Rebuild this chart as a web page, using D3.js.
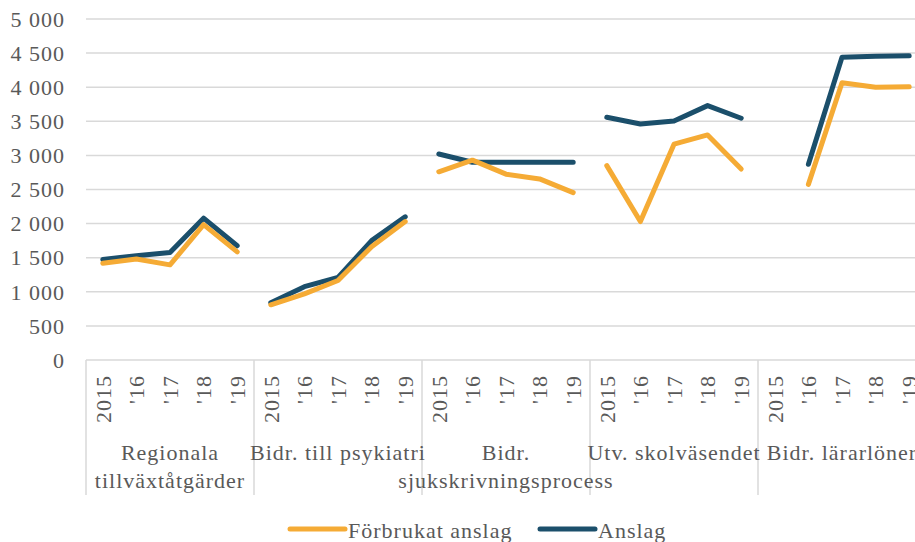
<!DOCTYPE html>
<html>
<head>
<meta charset="utf-8">
<script src="https://cdn.jsdelivr.net/npm/d3@7/dist/d3.min.js"></script>
<style>
  html, body { margin: 0; padding: 0; background: #fff; }
  svg { display: block; }
  text { font-family: "Liberation Serif", "Times New Roman", serif; fill: #595959; }
</style>
</head>
<body>
<svg id="chart" width="915" height="542"></svg>
<script>
// ---- data ----
const groups = ["Regionala tillväxtåtgärder", "Bidr. till psykiatri", "Bidr. sjukskrivningsprocess", "Utv. skolväsendet", "Bidr. lärarlöner"];
const groupLabelLines = [["Regionala", "tillväxtåtgärder"], ["Bidr. till psykiatri"], ["Bidr.", "sjukskrivningsprocess"], ["Utv. skolväsendet"], ["Bidr. lärarlöner"]];
const years = ["2015", "'16", "'17", "'18", "'19"];
const forbrukat = [
  [1420, 1480, 1395, 1985, 1585],
  [810, 970, 1165, 1660, 2030],
  [2760, 2930, 2725, 2655, 2455],
  [2850, 2030, 3165, 3300, 2800],
  [null, 2575, 4065, 4000, 4005]
];
const anslag = [
  [1475, 1530, 1575, 2080, 1675],
  [840, 1075, 1210, 1750, 2100],
  [3020, 2900, 2900, 2900, 2900],
  [3560, 3460, 3505, 3730, 3545],
  [null, 2870, 4440, 4455, 4460]
];
const yTicks = [0, 500, 1000, 1500, 2000, 2500, 3000, 3500, 4000, 4500, 5000];
const seriesNames = ["Förbrukat anslag", "Anslag"];
const colors = ["#F5AB35", "#1B4F6B"];

// ---- layout ----
const svg = d3.select("#chart");
const mLeft = 86, mRight = 926, mTop = 19, mBottom = 360;
const fs = 22;

const x0 = d3.scaleBand().domain(groups).range([mLeft, mRight]).paddingInner(0).paddingOuter(0);
const x1 = d3.scaleBand().domain(years).range([0, x0.bandwidth()]);
const y = d3.scaleLinear().domain([0, 5000]).range([mBottom, mTop]);

const fmt = v => d3.format(",")(v).replace(/,/g, " ");

// gridlines
svg.append("g").selectAll("line").data(yTicks.filter(d => d > 0)).join("line")
  .attr("x1", mLeft).attr("x2", mRight)
  .attr("y1", d => y(d)).attr("y2", d => y(d))
  .attr("stroke", "#d9d9d9").attr("stroke-width", 1.5);

// y-axis labels
svg.append("g").selectAll("text").data(yTicks).join("text")
  .attr("x", 65).attr("y", d => y(d)).attr("dy", "0.35em")
  .attr("text-anchor", "end").attr("font-size", fs).style("letter-spacing", "1px")
  .text(fmt);

// x axis baseline
svg.append("line").attr("x1", mLeft).attr("x2", mRight).attr("y1", mBottom).attr("y2", mBottom)
  .attr("stroke", "#d9d9d9").attr("stroke-width", 1.5);

// group separators
const seps = groups.map(g => x0(g)).concat([x0(groups[groups.length - 1]) + x0.bandwidth()]);
svg.append("g").selectAll("line").data(seps).join("line")
  .attr("x1", d => d).attr("x2", d => d).attr("y1", mBottom).attr("y2", 495)
  .attr("stroke", "#d9d9d9").attr("stroke-width", 1.5);

// year tick labels
groups.forEach(g => {
  svg.append("g").selectAll("text").data(years).join("text")
    .attr("transform", d => `translate(${x0(g) + x1(d) + x1.bandwidth() / 2},375) rotate(-90)`)
    .attr("dy", "0.35em").attr("text-anchor", "end").attr("font-size", fs)
    .style("letter-spacing", "1px")
    .text(d => d);
});

// group labels
groups.forEach((g, i) => {
  const cx = x0(g) + x0.bandwidth() / 2;
  groupLabelLines[i].forEach((ln, j) => {
    svg.append("text").attr("x", cx).attr("y", 460 + j * 28)
      .attr("text-anchor", "middle").attr("font-size", fs).style("letter-spacing", "1px")
      .text(ln);
  });
});

// lines
const line = d3.line()
  .defined(d => d.v != null)
  .x(d => x0(d.g) + x1(d.yr) + x1.bandwidth() / 2)
  .y(d => y(d.v));

const seriesData = [anslag, forbrukat];
const seriesColors = [colors[1], colors[0]];
seriesData.forEach((sd, si) => {
  groups.forEach((g, gi) => {
    const pts = years.map((yr, k) => ({ g, yr, v: sd[gi][k] }));
    svg.append("path").datum(pts)
      .attr("d", line)
      .attr("fill", "none").attr("stroke", seriesColors[si])
      .attr("stroke-width", 5).attr("stroke-linecap", "round").attr("stroke-linejoin", "round");
  });
});

// legend
const legendItems = [
  { name: seriesNames[0], color: colors[0], x: 290 },
  { name: seriesNames[1], color: colors[1], x: 540 }
];
legendItems.forEach(it => {
  svg.append("line").attr("x1", it.x).attr("x2", it.x + 55).attr("y1", 529).attr("y2", 529)
    .attr("stroke", it.color).attr("stroke-width", 5).attr("stroke-linecap", "round");
  svg.append("text").attr("x", it.x + 58).attr("y", 538).attr("font-size", fs)
    .style("letter-spacing", "1px").text(it.name);
});
</script>
</body>
</html>
